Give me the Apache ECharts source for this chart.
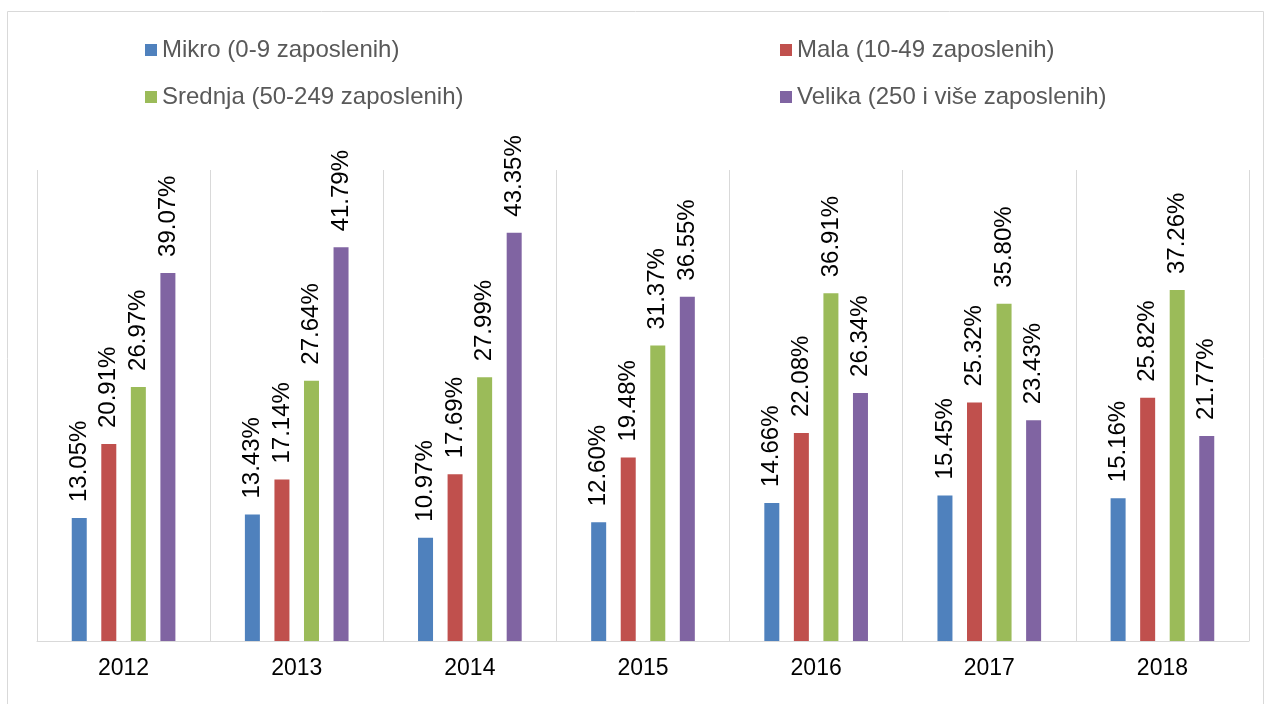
<!DOCTYPE html>
<html>
<head>
<meta charset="utf-8">
<title>Zaposleni po veličini preduzeća</title>
<script src="https://cdn.jsdelivr.net/npm/echarts@6/dist/echarts.min.js"></script>
<style>
	html, body { margin: 0; padding: 0; background: #fff; }
	#myChart { width: 1265px; height: 704px; }
</style>
</head>
<body>
<div id="myChart"></div>
<script>
	// podaci sa slike
	var years = ['2012', '2013', '2014', '2015', '2016', '2017', '2018'];
	var seriesNames = ['Mikro (0-9 zaposlenih)', 'Mala (10-49 zaposlenih)', 'Srednja (50-249 zaposlenih)', 'Velika (250 i više zaposlenih)'];
	var mikro = [13.05, 13.43, 10.97, 12.60, 14.66, 15.45, 15.16];
	var mala = [20.91, 17.14, 17.69, 19.48, 22.08, 25.32, 25.82];
	var srednja = [26.97, 27.64, 27.99, 31.37, 36.91, 35.80, 37.26];
	var velika = [39.07, 41.79, 43.35, 36.55, 26.34, 23.43, 21.77];

	var colors = ['#4F81BD', '#C0504D', '#9BBB59', '#8064A2'];
	var font = "'Liberation Sans', Arial, sans-serif";

	function makeSeries(name, data, color) {
		return {
			name: name,
			type: 'bar',
			data: data,
			barWidth: 15,
			barGap: '97%',
			itemStyle: { color: color },
			label: {
				show: true,
				position: 'top',
				rotate: 90,
				align: 'left',
				verticalAlign: 'middle',
				distance: 16,
				color: '#000',
				fontFamily: font,
				fontSize: 24,
				formatter: function (p) { return p.value.toFixed(2) + '%'; }
			}
		};
	}

	var legendText = { color: '#595959', fontFamily: font, fontSize: 24, lineHeight: 24 };

	var myChart = echarts.init(document.getElementById('myChart'));
	myChart.setOption({
		animation: false,
		color: colors,
		graphic: [{
			type: 'rect',
			shape: { x: 7.5, y: 11.5, width: 1256, height: 700 },
			style: { fill: 'none', stroke: '#D9D9D9', lineWidth: 1 },
			silent: true
		}],
		legend: [{
			data: [seriesNames[0], seriesNames[2]],
			orient: 'vertical',
			left: 140,
			top: 33,
			itemWidth: 12,
			itemHeight: 12,
			itemGap: 23,
			icon: 'rect',
			textStyle: legendText
		}, {
			data: [seriesNames[1], seriesNames[3]],
			orient: 'vertical',
			left: 775,
			top: 33,
			itemWidth: 12,
			itemHeight: 12,
			itemGap: 23,
			icon: 'rect',
			textStyle: legendText
		}],
		grid: { left: 37, right: 16, top: 170, bottom: 63, containLabel: false },
		xAxis: {
			type: 'category',
			data: years,
			axisLine: { lineStyle: { color: '#D9D9D9', width: 1 } },
			axisTick: { show: false },
			splitLine: { show: true, lineStyle: { color: '#D9D9D9', width: 1 } },
			axisLabel: { color: '#000', fontFamily: font, fontSize: 23, margin: 16 }
		},
		yAxis: {
			type: 'value',
			min: 0,
			max: 50,
			show: false
		},
		series: [
			makeSeries(seriesNames[0], mikro, colors[0]),
			makeSeries(seriesNames[1], mala, colors[1]),
			makeSeries(seriesNames[2], srednja, colors[2]),
			makeSeries(seriesNames[3], velika, colors[3])
		]
	});
</script>
</body>
</html>
